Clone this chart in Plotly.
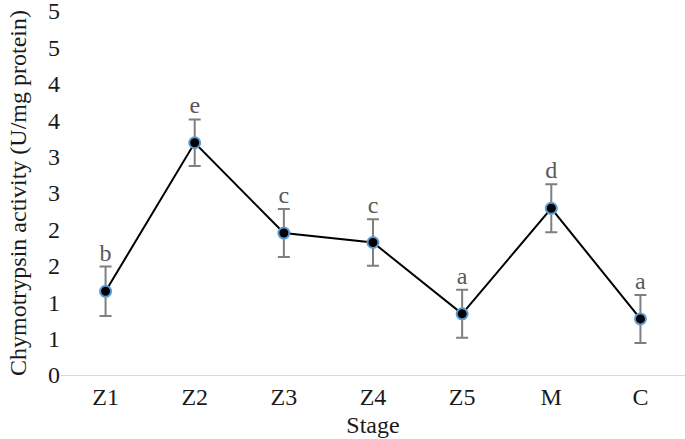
import plotly.graph_objects as go

stages = ["Z1", "Z2", "Z3", "Z4", "Z5", "M", "C"]
activity = [1.15, 3.19, 1.95, 1.82, 0.84, 2.29, 0.77]
errors = [0.34, 0.32, 0.33, 0.32, 0.33, 0.33, 0.33]
letters = ["b", "e", "c", "c", "a", "d", "a"]
tick_vals = [0, 0.5, 1, 1.5, 2, 2.5, 3, 3.5, 4, 4.5, 5]
tick_text = ["0", "1", "1", "2", "2", "3", "3", "4", "4", "5", "5"]

font = "Liberation Serif, Times New Roman, serif"

fig = go.Figure()
fig.add_trace(go.Scatter(
    x=stages, y=activity, mode="lines+markers",
    line=dict(color="black", width=2),
    marker=dict(color="black", size=11, line=dict(color="#5b9bd5", width=2)),
    error_y=dict(type="data", array=errors, visible=True, color="#7f7f7f",
                 thickness=2, width=6),
    showlegend=False,
))
fig.add_trace(go.Scatter(
    x=stages, y=[a + e for a, e in zip(activity, errors)], mode="text",
    text=letters, textposition="top center",
    textfont=dict(family=font, size=24, color="#595959"),
    showlegend=False, hoverinfo="skip",
))

fig.update_layout(
    width=685, height=439,
    margin=dict(l=61, r=0, t=11, b=64),
    paper_bgcolor="white", plot_bgcolor="white",
    font=dict(family=font, size=24, color="black"),
    xaxis=dict(
        title=dict(text="Stage", font=dict(size=24, color="#1a1a1a"), standoff=7),
        range=[-0.5, len(stages) - 0.5],
        showgrid=False, showline=True, linecolor="#d9d9d9", linewidth=1,
        ticks="", tickfont=dict(size=24, color="#1a1a1a"), automargin=False,
    ),
    yaxis=dict(
        title=dict(text="Chymotrypsin activity (U/mg protein)", font=dict(size=24, color="#1a1a1a"), standoff=14),
        range=[0, 5], tickvals=tick_vals, ticktext=tick_text,
        showgrid=False, showline=False, zeroline=False, ticks="",
        tickfont=dict(size=24, color="#1a1a1a"), automargin=False,
        ticklabeloverflow="allow",
    ),
)

fig.write_html("out.html", config={"displayModeBar": False},
               post_script="document.body.style.margin='0';document.body.style.overflow='hidden';")
